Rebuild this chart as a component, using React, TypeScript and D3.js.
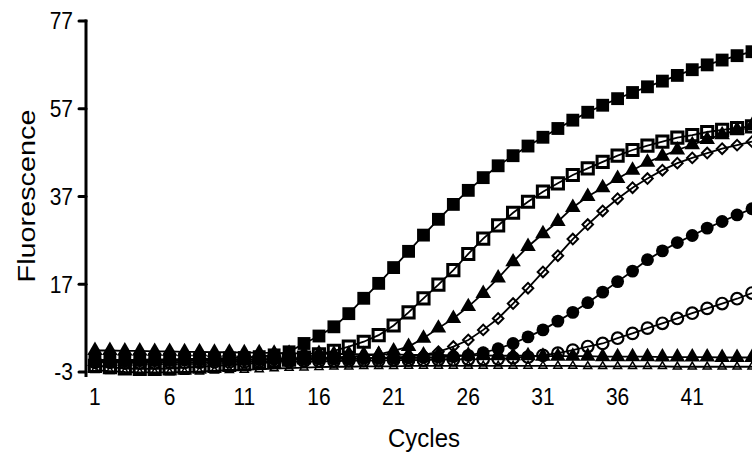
import * as d3 from "d3";
import { useEffect, useRef } from "react";

// cycles 1..45
const cycles = d3.range(1, 46);
const xTicks = [1, 6, 11, 16, 21, 26, 31, 36, 41];
const yTicks = [-3, 17, 37, 57, 77];

const filledSquares = [
  -0.3, -0.2, -0.3, -0.2, -0.1, -0.1, 0.0, 0.0, 0.1, 0.2, 0.3, 0.5, 0.9, 1.6, 3.5,
  5.2, 7.3, 10.3, 13.8, 17.2, 20.8, 24.5, 28.2, 31.8, 35.2, 38.4, 41.3, 44.0, 46.3, 48.5,
  50.5, 52.5, 54.4, 56.2, 57.8, 59.3, 60.7, 62.0, 63.3, 64.6, 65.9, 67.0, 68.1, 69.1, 70.0
];
const openSquares = [
  -1.6, -1.9, -2.2, -2.3, -2.3, -2.2, -2.0, -1.8, -1.6, -1.4, -1.2, -0.9, -0.6, -0.2, 0.3,
  1.0, 1.8, 2.8, 3.9, 5.4, 7.6, 10.6, 13.8, 16.9, 20.2, 23.9, 27.4, 30.4, 33.3, 35.8,
  38.1, 40.0, 41.9, 43.4, 44.9, 46.3, 47.6, 48.6, 49.5, 50.4, 51.0, 51.7, 52.2, 52.6, 53.0
];
const filledTriangles = [
  -0.6, -0.6, -0.5, -0.5, -0.4, -0.4, -0.3, -0.3, -0.2, -0.2, -0.1, -0.1, 0.0, 0.0, 0.1,
  0.2, 0.3, 0.5, 0.7, 1.0, 1.8, 2.8, 4.7, 7.0, 9.2, 11.9, 14.9, 18.4, 22.1, 25.6,
  28.5, 31.3, 34.5, 37.0, 39.0, 41.1, 43.0, 44.8, 46.2, 47.6, 48.8, 50.0, 51.1, 52.2, 53.2
];
const openDiamonds = [
  -0.4, -0.4, -0.5, -0.5, -0.5, -0.4, -0.4, -0.3, -0.3, -0.3, -0.2, -0.2, -0.2, -0.1, -0.1,
  0.0, 0.0, 0.1, 0.1, 0.2, 0.3, 0.5, 0.9, 1.6, 2.8, 4.3, 6.6, 9.2, 12.6, 16.1,
  19.8, 23.5, 27.3, 30.6, 33.7, 36.5, 39.0, 41.1, 43.0, 44.6, 45.8, 46.9, 47.9, 48.7, 49.5
];
const filledCircles = [
  -0.5, -0.5, -0.5, -0.4, -0.4, -0.4, -0.3, -0.3, -0.3, -0.2, -0.2, -0.2, -0.1, -0.1, -0.1,
  0.0, 0.0, 0.0, 0.1, 0.1, 0.1, 0.2, 0.3, 0.4, 0.5, 0.8, 1.4, 2.3, 3.5, 5.0,
  6.6, 8.6, 10.6, 12.8, 15.2, 17.6, 20.0, 22.6, 24.6, 26.5, 28.1, 29.8, 31.3, 32.8, 34.2
];
const openCircles = [
  -0.8, -0.8, -0.9, -0.9, -0.9, -0.8, -0.8, -0.8, -0.7, -0.7, -0.7, -0.6, -0.6, -0.6, -0.5,
  -0.5, -0.5, -0.4, -0.4, -0.4, -0.3, -0.3, -0.3, -0.2, -0.2, -0.1, -0.1, 0.0, 0.2, 0.4,
  0.8, 1.3, 2.0, 2.8, 3.5, 4.7, 5.8, 7.0, 8.1, 9.2, 10.4, 11.5, 12.6, 13.7, 15.0
];
const flatTriangles = [
  1.9, 1.9, 1.8, 1.8, 1.7, 1.7, 1.6, 1.6, 1.5, 1.5, 1.4, 1.4, 1.3, 1.3, 1.2,
  1.2, 1.1, 1.1, 1.0, 1.0, 1.0, 0.9, 0.9, 0.9, 0.8, 0.8, 0.8, 0.7, 0.7, 0.7,
  0.6, 0.6, 0.6, 0.6, 0.5, 0.5, 0.5, 0.5, 0.4, 0.4, 0.4, 0.4, 0.3, 0.3, 0.3
];
const flatOpenTriangles = [
  -2.6, -2.8, -3.0, -3.1, -3.1, -3.1, -3.0, -2.9, -2.7, -2.6, -2.5, -2.4, -2.2, -2.1, -2.0,
  -1.9, -1.8, -1.8, -1.7, -1.7, -1.7, -1.6, -1.6, -1.6, -1.6, -1.6, -1.6, -1.6, -1.6, -1.6,
  -1.6, -1.6, -1.6, -1.7, -1.7, -1.7, -1.7, -1.7, -1.7, -1.8, -1.8, -1.8, -1.8, -1.8, -1.8
];

const series = [
  { values: flatOpenTriangles, symbol: d3.symbolTriangle, size: 28, fill: "none", sw: 1.5, rot: 0 },
  { values: openCircles, symbol: d3.symbolCircle, size: 105, fill: "none", sw: 2.2, rot: 0 },
  { values: filledCircles, symbol: d3.symbolCircle, size: 130, fill: "#000", sw: 0, rot: 0 },
  { values: openDiamonds, symbol: d3.symbolSquare, size: 56, fill: "none", sw: 2, rot: 45 },
  { values: openSquares, symbol: d3.symbolSquare, size: 125, fill: "none", sw: 3, rot: 0 },
  { values: filledTriangles, symbol: d3.symbolTriangle, size: 105, fill: "#000", sw: 0, rot: 0 },
  { values: flatTriangles, symbol: d3.symbolTriangle, size: 105, fill: "#000", sw: 0, rot: 0 },
  { values: filledSquares, symbol: d3.symbolSquare, size: 165, fill: "#000", sw: 0, rot: 0 }
];

const App = () => {
  const ref = useRef(null);
  const width = 752;
  const height = 454;
  const axisX = 86;

  useEffect(() => {
    const svg = d3.select(ref.current);
    svg.selectAll("*").remove();

    const x = d3.scaleLinear().domain([0.5, 45]).range([87.5, 752]);
    const y = d3.scaleLinear().domain([-3, 77]).range([372, 21]);
    const font = "'Liberation Sans', Arial, sans-serif";

    // y axis
    svg.append("line")
      .attr("x1", axisX).attr("x2", axisX)
      .attr("y1", y(77) - 1.5).attr("y2", y(-3) + 5)
      .attr("stroke", "#000").attr("stroke-width", 3);
    const yt = svg.append("g");
    yTicks.forEach(t => {
      yt.append("line")
        .attr("x1", axisX - 7).attr("x2", axisX)
        .attr("y1", y(t)).attr("y2", y(t))
        .attr("stroke", "#000").attr("stroke-width", 3)
        .attr("stroke-linecap", "round");
      yt.append("text")
        .attr("transform", `translate(73,${y(t)}) scale(1,1.12)`)
        .attr("text-anchor", "end")
        .attr("dy", "0.36em")
        .style("font-family", font)
        .style("font-size", "21px")
        .text(t);
    });

    // x tick labels
    xTicks.forEach(t => {
      svg.append("text")
        .attr("transform", `translate(${x(t)},405) scale(1,1.12)`)
        .attr("text-anchor", "middle")
        .style("font-family", font)
        .style("font-size", "21px")
        .text(t);
    });

    // axis titles
    svg.append("text")
      .attr("transform", `translate(424,447) scale(1,1.05)`)
      .attr("text-anchor", "middle")
      .style("font-family", font)
      .style("font-size", "24px")
      .text("Cycles");
    svg.append("text")
      .attr("transform", `translate(35,196) rotate(-90) scale(1.2,1)`)
      .attr("text-anchor", "middle")
      .style("font-family", font)
      .style("font-size", "24px")
      .text("Fluorescence");

    const line = d3.line<number>()
      .x((d, i) => x(cycles[i]))
      .y(d => y(d));

    series.forEach(s => {
      const g = svg.append("g");
      g.append("path")
        .attr("d", line(s.values))
        .attr("fill", "none")
        .attr("stroke", "#000")
        .attr("stroke-width", 1.8);
      const sym = d3.symbol().type(s.symbol).size(s.size);
      g.selectAll("path.m")
        .data(s.values)
        .enter()
        .append("path")
          .attr("class", "m")
          .attr("d", sym())
          .attr("transform", (d, i) => `translate(${x(cycles[i])},${y(d)}) rotate(${s.rot})`)
          .attr("fill", s.fill)
          .attr("stroke", s.fill === "none" ? "#000" : "none")
          .attr("stroke-width", s.sw);
    });
  }, []);

  return (
    <svg
      ref={ref}
      width={width}
      height={height}
      style={{ position: "absolute", left: 0, top: 0, background: "#fff" }}
    ></svg>
  );
};

export default App;
